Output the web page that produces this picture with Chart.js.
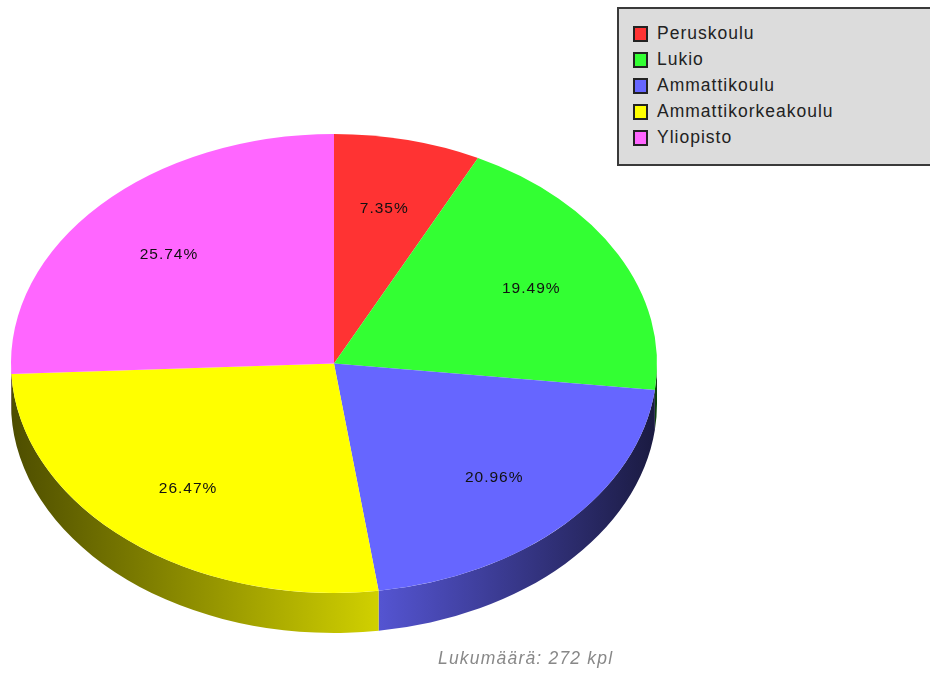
<!DOCTYPE html>
<html>
<head>
<meta charset="utf-8">
<script src="https://cdn.jsdelivr.net/npm/chart.js@4"></script>
<style>
    body { margin: 0; background: #fff; font-family: "Liberation Sans", sans-serif; }
    #wrap { position: relative; width: 930px; height: 673px; overflow: hidden; filter: blur(0.45px); }
    #legend { position: absolute; left: 617px; top: 7px; width: 330px; height: 155px;
              background: #dcdcdc; border: 2px solid #3a3a3a; }
    .row { position: absolute; left: 14px; height: 20px; line-height: 20px; font-size: 17.5px; letter-spacing: 1px; color: #222; white-space: nowrap; }
    .swatch { position: absolute; left: 0; top: 3px; width: 11px; height: 12px; border: 2px solid #222; }
    .row span.t { position: absolute; left: 24px; top: 0; }
    #caption { position: absolute; left: 438px; top: 648px; font-size: 17.5px; font-style: italic; letter-spacing: 1.2px; color: #888; white-space: nowrap; }
</style>
</head>
<body>
<div id="wrap">
    <canvas id="pieChart" width="930" height="673"></canvas>
    <div id="legend"></div>
    <div id="caption"></div>
</div>
<script>
const categories = ["Peruskoulu", "Lukio", "Ammattikoulu", "Ammattikorkeakoulu", "Yliopisto"];
const counts = [20, 53, 57, 72, 70];
const sliceColors = ["#ff3333", "#33ff33", "#6666ff", "#ffff00", "#ff66ff"];
const captionText = "Lukumäärä: 272 kpl";

const total = counts.reduce((a, b) => a + b, 0);
const squash = 229.5 / 323; // pie is tilted, circle becomes ellipse
const depth = 40;

function shade(hex, f) {
    const n = parseInt(hex.slice(1), 16);
    return `rgb(${Math.round((n >> 16) * f)}, ${Math.round(((n >> 8) & 255) * f)}, ${Math.round((n & 255) * f)})`;
}

// the rim below the pie, and the squash for the arcs themselves
const tiltPlugin = {
    id: "tilt",
    beforeDatasetsDraw(chart) {
        const ctx = chart.ctx;
        const arcs = chart.getDatasetMeta(0).data;
        arcs.forEach((arc, i) => {
            const a0 = Math.max(arc.startAngle, 0);
            const a1 = Math.min(arc.endAngle, Math.PI);
            if (a1 <= a0) return;
            const rx = arc.outerRadius, ry = rx * squash;
            const grad = ctx.createLinearGradient(10, 0, 657, 0);
            grad.addColorStop(0, shade(sliceColors[i], 0.3));
            grad.addColorStop(0.572, shade(sliceColors[i], 0.82));
            grad.addColorStop(1, shade(sliceColors[i], 0.25));
            ctx.fillStyle = grad;
            ctx.beginPath();
            ctx.ellipse(arc.x, arc.y + depth, rx, ry, 0, a0, a1);
            ctx.ellipse(arc.x, arc.y, rx, ry, 0, a1, a0, true);
            ctx.closePath();
            ctx.fill();
        });
        const first = arcs[0];
        ctx.save();
        ctx.translate(first.x, first.y);
        ctx.scale(1, squash);
        ctx.translate(-first.x, -first.y);
    },
    afterDatasetsDraw(chart) {
        const ctx = chart.ctx;
        ctx.restore();
        // percent labels
        ctx.save();
        ctx.font = '15.5px "Liberation Sans"';
        ctx.letterSpacing = "1px";
        ctx.fillStyle = "#111";
        ctx.textAlign = "center";
        ctx.textBaseline = "middle";
        chart.getDatasetMeta(0).data.forEach((arc, i) => {
            const mid = (arc.startAngle + arc.endAngle) / 2;
            const r = arc.outerRadius * 0.7;
            const label = (counts[i] / total * 100).toFixed(2) + "%";
            ctx.fillText(label, arc.x - 1.5 + r * Math.cos(mid), arc.y + 2 + r * squash * Math.sin(mid));
        });
        ctx.restore();
    }
};

new Chart(document.getElementById("pieChart"), {
    type: "pie",
    data: {
        labels: categories,
        datasets: [{
            data: counts,
            backgroundColor: sliceColors,
            borderWidth: 0
        }]
    },
    options: {
        responsive: false,
        animation: false,
        radius: 323,
        layout: { padding: { top: 54, right: 262, bottom: 0, left: 0 } },
        plugins: {
            legend: { display: false },
            tooltip: { enabled: false }
        }
    },
    plugins: [tiltPlugin]
});

// legend box
const legendBox = document.getElementById("legend");
categories.forEach((name, i) => {
    const row = document.createElement("div");
    row.className = "row";
    row.style.top = (14 + i * 26) + "px";
    row.innerHTML = `<div class="swatch" style="background:${sliceColors[i]}"></div><span class="t">${name}</span>`;
    legendBox.appendChild(row);
});
document.getElementById("caption").textContent = captionText;
</script>
</body>
</html>
